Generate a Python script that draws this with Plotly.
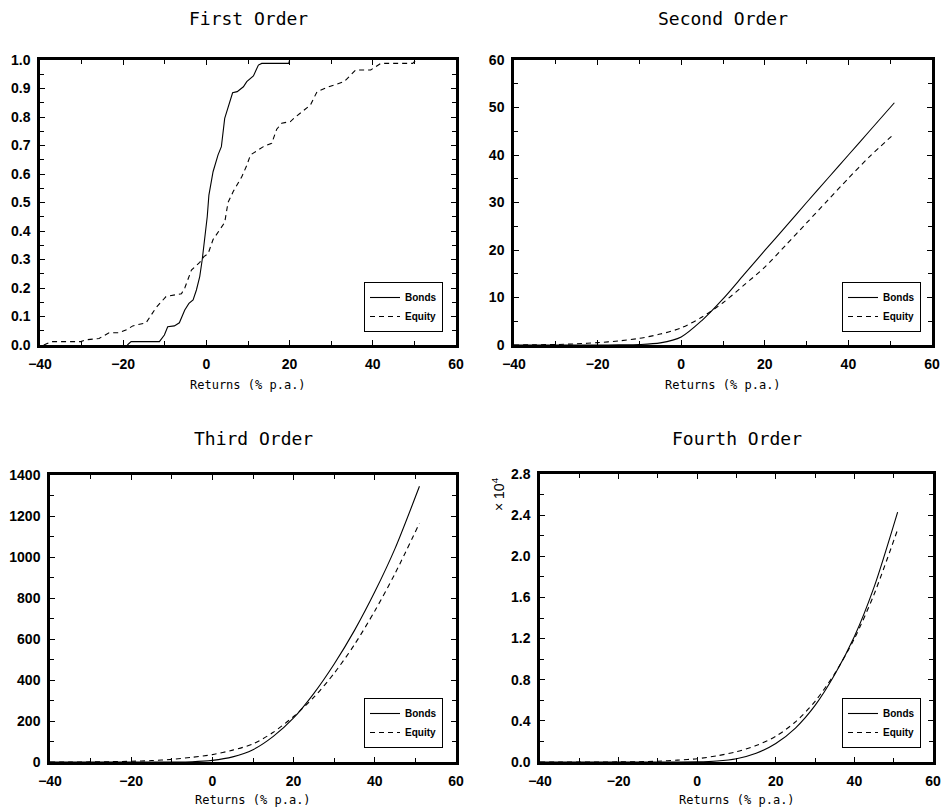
import plotly.graph_objects as go

W, H = 943, 810

# ---------------- data ----------------
# First order (empirical CDF)
bonds_x1 = [-19, -18.1, -11.3, -10.1, -9.3, -7.7, -6.5, -5.2, -4.2, -3.2, -2.4, -1.6, -1.0, -0.4,
            0.2, 0.6, 1.6, 2.8, 3.6, 4.4, 5.2, 6.3, 7.4, 8.9, 9.7, 11.3, 12.5, 13.3, 19.8, 20.0]
bonds_y1 = [0.0, 0.012, 0.012, 0.035, 0.064, 0.067, 0.078, 0.123, 0.146, 0.158, 0.193, 0.24, 0.30, 0.368,
            0.45, 0.526, 0.608, 0.667, 0.696, 0.795, 0.83, 0.885, 0.889, 0.906, 0.924, 0.944, 0.982, 0.988, 0.988, 1.0]
equity_x1 = [-39.1, -37.1, -30.2, -29, -25.8, -23.4, -21, -19, -17.7, -14.5, -12.1, -9.7, -6.0, -5.2,
             -3.6, -1.6, -0.6, 0.4, 1.6, 3.6, 4.4, 5.2, 6.5, 8.5, 9.7, 10.6, 13.7, 15.7, 16.9, 18.1,
             20.2, 21.4, 25, 26.6, 29.4, 33.1, 35.9, 39.5, 41.9, 49.6, 50.4]
equity_y1 = [0.0, 0.012, 0.012, 0.018, 0.023, 0.043, 0.043, 0.055, 0.067, 0.078, 0.131, 0.17, 0.18, 0.2,
             0.263, 0.29, 0.31, 0.32, 0.37, 0.41, 0.43, 0.50, 0.54, 0.59, 0.63, 0.667, 0.696, 0.708, 0.757, 0.778,
             0.784, 0.80, 0.842, 0.889, 0.906, 0.924, 0.965, 0.965, 0.988, 0.988, 1.0]

# Higher orders on a common return grid
x_grid = [-40, -35, -30, -25, -20, -15, -10, -5, 0, 5, 10, 15, 20, 25, 30, 35, 40, 45, 51]

bonds_2 = [0, 0, 0, 0, 0, 0.03, 0.1, 0.45, 1.7, 5.2, 9.7, 14.8, 19.9, 24.9, 30.0, 35.0, 40.0, 45.0, 51.0]
equity_2 = [0, 0.05, 0.1, 0.25, 0.5, 0.85, 1.4, 2.3, 3.6, 5.9, 8.9, 12.6, 16.4, 21.0, 25.7, 30.4, 35.1, 39.6, 44.5]

bonds_3 = [0, 0, 0, 0, 0, 0, 0.2, 1.5, 8, 25, 60, 125, 215, 335, 478, 642, 830, 1042, 1345]
equity_3 = [0, 0.1, 0.5, 1.5, 3.5, 7, 13, 23, 36, 58, 88, 145, 222, 316, 433, 573, 737, 920, 1165]

bonds_4 = [0, 0, 0, 0, 0, 0, 0, 0, 0.001, 0.009, 0.032, 0.085, 0.18, 0.33, 0.55, 0.85, 1.22, 1.70, 2.43]   # x 10^4
equity_4 = [0, 0, 0, 0, 0.001, 0.003, 0.008, 0.018, 0.032, 0.06, 0.1, 0.16, 0.25, 0.39, 0.59, 0.86, 1.2, 1.63, 2.26]  # x 10^4

titles = ["First Order", "Second Order", "Third Order", "Fourth Order"]
x_title = "Returns (% p.a.)"
series_names = ["Bonds", "Equity"]

# ---------------- layout geometry (pixels) ----------------
panels = [
    dict(l=40, r=456, t=60, b=345),
    dict(l=514, r=932, t=60, b=345),
    dict(l=50, r=456, t=475, b=762),
    dict(l=540, r=933, t=474, b=762),
]
yranges = [[0, 1.0], [0, 60], [0, 1400], [0, 2.8]]
ydticks = [0.1, 10, 200, 0.4]
yminor = [0.05, 5, 100, 0.2]
yformats = [".1f", "d", "d", ".1f"]
title_y = [18, 18, 438, 438]
xtitle_y = [385, 385, 800, 800]
legend_pos = [(443, 332), (921, 332), (443, 748), (921, 748)]

tick_font = dict(family="Liberation Sans", size=14, color="black", weight="bold")
title_font = dict(family="DejaVu Sans Mono", size=18, color="black")
axtitle_font = dict(family="DejaVu Sans Mono", size=12, color="black")

def px2x(p):
    return p / W

def px2y(p):
    return 1 - p / H

fig = go.Figure()

data_sets = [
    (bonds_x1, bonds_y1, equity_x1, equity_y1, "linear"),
    (x_grid, bonds_2, x_grid, equity_2, "spline"),
    (x_grid, bonds_3, x_grid, equity_3, "spline"),
    (x_grid, bonds_4, x_grid, equity_4, "spline"),
]

annotations = []
layout_axes = {}
for i, (bx, by, ex, ey, shape) in enumerate(data_sets):
    n = i + 1
    xa = "x" if n == 1 else f"x{n}"
    ya = "y" if n == 1 else f"y{n}"
    lg = "legend" if n == 1 else f"legend{n}"
    fig.add_trace(go.Scatter(x=bx, y=by, mode="lines", name=series_names[0],
                             line=dict(color="black", width=1.1, shape=shape, smoothing=0.8),
                             xaxis=xa, yaxis=ya, legend=lg))
    fig.add_trace(go.Scatter(x=ex, y=ey, mode="lines", name=series_names[1],
                             line=dict(color="black", width=1.1, dash="5px,4px", shape=shape, smoothing=0.8),
                             xaxis=xa, yaxis=ya, legend=lg))
    p = panels[i]
    xname = "xaxis" if n == 1 else f"xaxis{n}"
    yname = "yaxis" if n == 1 else f"yaxis{n}"
    layout_axes[xname] = dict(
        domain=[px2x(p["l"]), px2x(p["r"])], anchor=ya, range=[-40, 60],
        tickmode="linear", tick0=-40, dtick=20, ticks="inside", ticklen=5, tickwidth=1,
        minor=dict(ticks="inside", dtick=10, ticklen=4, tickwidth=1, tickcolor="black"),
        showline=True, linewidth=2.5, linecolor="black", mirror="allticks",
        showgrid=False, zeroline=False, tickfont=tick_font, tickcolor="black",
        ticklabelstandoff=4, automargin=False,
    )
    layout_axes[yname] = dict(
        domain=[px2y(p["b"]), px2y(p["t"])], anchor=xa, range=yranges[i],
        tickmode="linear", tick0=0, dtick=ydticks[i], tickformat=yformats[i],
        ticks="inside", ticklen=5, tickwidth=1,
        minor=dict(ticks="inside", dtick=yminor[i], ticklen=4, tickwidth=1, tickcolor="black"),
        showline=True, linewidth=2.5, linecolor="black", mirror="allticks",
        showgrid=False, zeroline=False, tickfont=tick_font, tickcolor="black",
        ticklabelstandoff=4, automargin=False,
    )
    cx = (p["l"] + p["r"]) / 2
    annotations.append(dict(text=titles[i], x=px2x(cx), y=px2y(title_y[i]), xref="paper", yref="paper",
                            showarrow=False, font=title_font, xanchor="center", yanchor="middle"))
    annotations.append(dict(text=x_title, x=px2x(cx), y=px2y(xtitle_y[i]), xref="paper", yref="paper",
                            showarrow=False, font=axtitle_font, xanchor="center", yanchor="middle"))
    lx, ly = legend_pos[i]
    layout_axes[lg] = dict(x=px2x(lx), y=px2y(ly), xanchor="right", yanchor="bottom",
                           bgcolor="white", bordercolor="black", borderwidth=1,
                           font=dict(family="Liberation Sans", size=10, color="black", weight="bold"),
                           itemwidth=30, tracegroupgap=0)

annotations.append(dict(text="\u00d7 10<sup>4</sup>", x=px2x(498), y=px2y(494), xref="paper", yref="paper",
                        showarrow=False, textangle=-90, font=dict(family="Liberation Sans", size=14, color="black"),
                        xanchor="center", yanchor="middle"))

fig.update_layout(
    template="none",
    width=W, height=H, margin=dict(l=0, r=0, t=0, b=0, autoexpand=False),
    paper_bgcolor="white", plot_bgcolor="white",
    showlegend=True, annotations=annotations, **layout_axes,
)

fig.write_html("out.html", config={"displayModeBar": False},
               post_script="document.body.style.margin='0';document.body.style.overflow='hidden';")
